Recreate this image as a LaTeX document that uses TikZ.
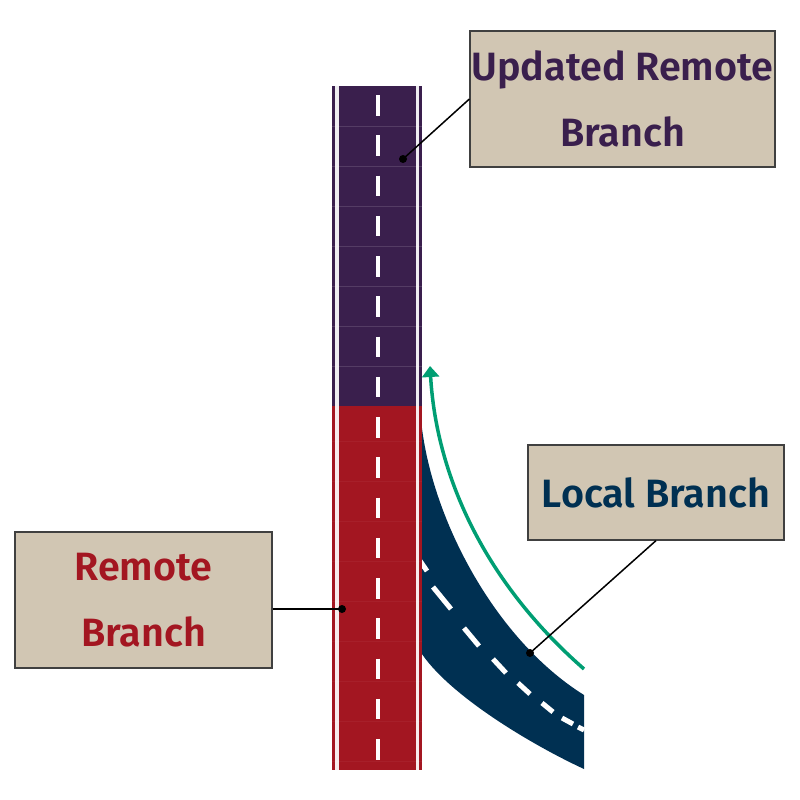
\documentclass[tikz,border=0pt]{standalone}
\usepackage{fontspec}
\setmainfont{Fira Sans}[BoldFont={Fira Sans SemiBold}]
\usetikzlibrary{arrows.meta}
\definecolor{rpurple}{HTML}{3A1F4D}
\definecolor{rred}{HTML}{A31621}
\definecolor{rnavy}{HTML}{003052}
\definecolor{rgreen}{HTML}{009E73}
\definecolor{rtan}{HTML}{D1C6B3}
\begin{document}
\begin{tikzpicture}[x=1pt,y=-1pt,
  labelbox/.style={draw=black!75, line width=1.2pt, fill=rtan, align=center,
    font=\fontsize{39.5}{66}\selectfont\bfseries, inner sep=0pt},
  leader/.style={draw=black, line width=1.5pt},
  dotmark/.style={fill=black, circle, inner sep=0pt, minimum size=8pt},
  roaddash/.style={draw=white, line width=5pt}
]
\useasboundingbox (0,0) rectangle (800,800);

% local branch band
\fill[rnavy] (420,405) .. controls (424,505) and (490.5,636.7) .. (584,695)
  -- (584,769) .. controls (530,744) and (447,694) .. (420,651) -- cycle;
\foreach \a/\b in {{(416,555)/(427,571)},{(433,587)/(451,609)},{(464,628)/(479,646)},
  {(493,659)/(506,673)},{(518,683)/(530,694)},{(542,703)/(553,712)},
  {(562,718)/(573,724)},{(578,727)/(584,730)}}
  \draw[roaddash] \a -- \b;

% main road
\fill[rpurple] (332,86) rectangle (422,406);
\fill[rred] (332,406) rectangle (422,770);
\foreach \y in {126,166,...,366}
  \draw[rpurple!87!white, line width=0.7pt] (332,\y) -- (422,\y);
\foreach \y in {441,481,...,761}
  \draw[rred!96!white, line width=0.6pt] (332,\y) -- (422,\y);
\draw[white, line width=3.4pt, opacity=0.92] (336.9,86) -- (336.9,770);
\draw[white, line width=3.4pt, opacity=0.92] (417.3,86) -- (417.3,770);
\draw[white, line width=4pt, dash pattern=on 20.5pt off 19.75pt] (377.5,95) -- (377.5,770);

% green arrow
\draw[rgreen, line width=3.5pt, -{Triangle[width=17pt,length=11pt]}]
  (584,669) .. controls (480,578) and (436,470) .. (430,366);

% labels
\node[labelbox, text=rpurple, minimum width=305pt, minimum height=136pt] (ur) at (622.5,99) {Updated Remote\\Branch};
\node[labelbox, text=rred, minimum width=257pt, minimum height=136pt] (rb) at (143.5,600) {Remote\\Branch};
\node[labelbox, text=rnavy, minimum width=256pt, minimum height=95pt] (lb) at (656,492.5) {Local Branch};

% leaders
\node[dotmark] (dU) at (403,159) {};
\node[dotmark] (dR) at (342,609) {};
\node[dotmark] (dL) at (530,653) {};
\draw[leader] (ur.west) -- (dU.center);
\draw[leader] (dR.center -| rb.east) -- (dR.center);
\draw[leader] (lb.south) -- (dL.center);
\end{tikzpicture}
\end{document}
